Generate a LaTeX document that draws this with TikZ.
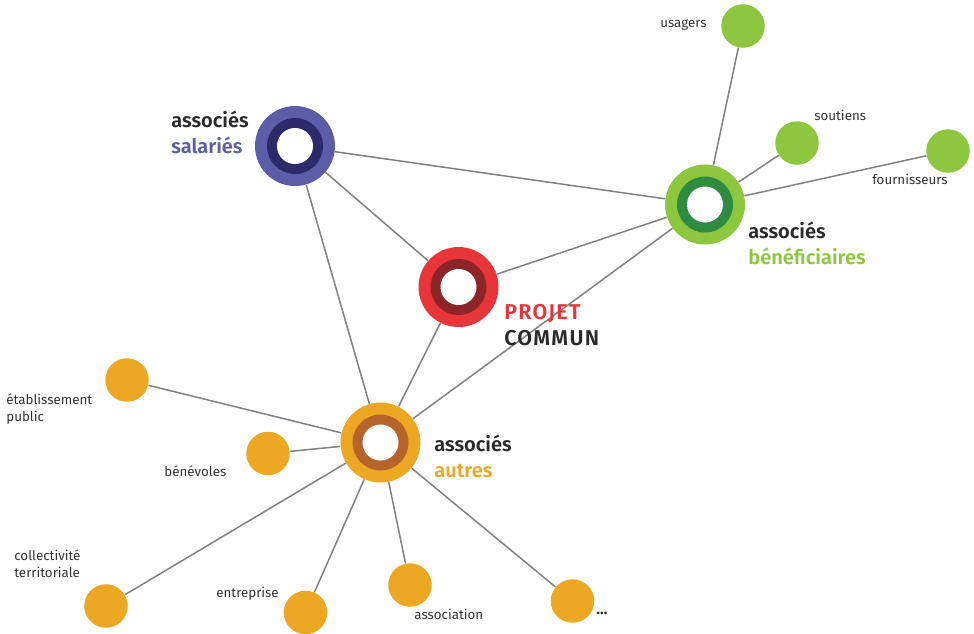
\documentclass[tikz,border=0pt]{standalone}
\usepackage{fontspec}
\setmainfont{Fira Sans}[BoldFont={Fira Sans SemiBold}]
\usetikzlibrary{backgrounds}
\definecolor{salext}{HTML}{5B5EA6}
\definecolor{salint}{HTML}{2B2A6B}
\definecolor{projext}{HTML}{E8353A}
\definecolor{projint}{HTML}{8C2428}
\definecolor{benext}{HTML}{8DC63F}
\definecolor{benint}{HTML}{2E8B41}
\definecolor{autext}{HTML}{ECA823}
\definecolor{autint}{HTML}{B5652A}
\definecolor{lien}{HTML}{808080}
\definecolor{fonce}{HTML}{2A2A2A}
\definecolor{gristexte}{HTML}{333333}

\begin{document}
\begin{tikzpicture}[line cap=round,line join=round,x=1cm,y=1cm,
  ring/.style n args={2}{circle,minimum size=1.6cm,inner sep=0pt,fill=#1,
    path picture={\fill[#2] (path picture bounding box.center) circle (0.56cm);
      \fill[white] (path picture bounding box.center) circle (0.36cm);}},
  dot/.style={circle,minimum size=0.87cm,inner sep=0pt,fill=#1},
  lien/.style={line width=0.85pt,color=lien},
  titre/.style={anchor=base west,align=left,inner sep=0pt,text=fonce,
    font=\fontsize{11.4}{14.7}\selectfont\bfseries},
  petit/.style={anchor=base west,align=left,inner sep=0pt,text=gristexte,
    font=\fontsize{7.6}{9.4}\selectfont}]
\useasboundingbox (0,-12.66) rectangle (19.48,0);
\node [ring={salext}{salint}] (sal) at (5.90,-2.92) {};
\node [ring={projext}{projint}] (proj) at (9.17,-5.74) {};
\node [ring={benext}{benint}] (ben) at (14.10,-4.09) {};
\node [ring={autext}{autint}] (aut) at (7.61,-8.85) {};
\node [dot=benext] (usa) at (14.86,-0.52) {};
\node [dot=benext] (sou) at (15.94,-2.86) {};
\node [dot=benext] (fou) at (18.96,-3.02) {};
\node [dot=autext] (eta) at (2.54,-7.60) {};
\node [dot=autext] (bnv) at (5.36,-9.07) {};
\node [dot=autext] (col) at (2.12,-12.12) {};
\node [dot=autext] (ent) at (6.11,-12.25) {};
\node [dot=autext] (asn) at (8.20,-11.70) {};
\node [dot=autext] (etc) at (11.45,-12.02) {};
\begin{scope}[on background layer]
\draw [lien] (sal) -- (ben);
\draw [lien] (sal) -- (proj);
\draw [lien] (sal) -- (aut);
\draw [lien] (proj) -- (ben);
\draw [lien] (proj) -- (aut);
\draw [lien] (aut) -- (ben);
\draw [lien] (ben) -- (usa);
\draw [lien] (ben) -- (sou);
\draw [lien] (ben) -- (fou);
\draw [lien] (aut) -- (eta);
\draw [lien] (aut) -- (bnv);
\draw [lien] (aut) -- (col);
\draw [lien] (aut) -- (ent);
\draw [lien] (aut) -- (asn);
\draw [lien] (aut) -- (etc);
\end{scope}
\node [titre] (tsal) at (3.42,-3.06) {associés\\\textcolor{salext}{salariés}};
\node [titre,font=\fontsize{12.2}{14.7}\selectfont\bfseries\addfontfeature{LetterSpace=6}] (tproj) at (10.08,-6.90) {\textcolor{projext}{PROJET}\\COMMUN};
\node [titre] (tben) at (14.96,-5.28) {associés\\\textcolor{benext}{bénéficiaires}};
\node [titre] (taut) at (8.68,-9.54) {associés\\\textcolor{autext}{autres}};
\node [petit] (tusa) at (13.20,-0.54) {usagers};
\node [petit] (tsou) at (16.28,-2.40) {soutiens};
\node [petit] (tfou) at (17.44,-3.68) {fournisseurs};
\node [petit] (teta) at (0.12,-8.42) {établissement\\public};
\node [petit] (tbnv) at (3.28,-9.52) {bénévoles};
\node [petit] (tcol) at (0.28,-11.54) {collectivité\\territoriale};
\node [petit] (tent) at (4.32,-11.94) {entreprise};
\node [petit] (tasn) at (8.28,-12.38) {association};
\node [petit,text=fonce,font=\fontsize{9}{9.4}\selectfont\bfseries] (tetc) at (11.92,-12.28) {...};
\end{tikzpicture}
\end{document}
